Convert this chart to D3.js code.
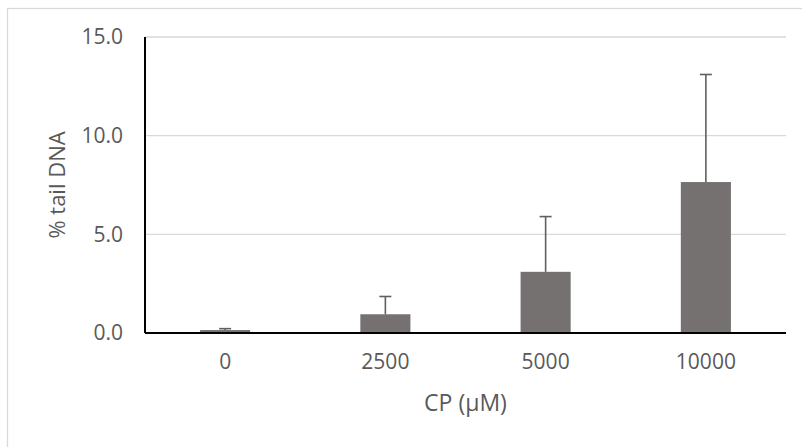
<!DOCTYPE html>
<html>
<head>
<meta charset="utf-8">
<script src="https://cdn.jsdelivr.net/npm/d3@7"></script>
<style>
  body { margin: 0; background: #fff; }
  text { font-family: "Open Sans", "Noto Sans", sans-serif; fill: #595959; }
</style>
</head>
<body>
<div id="chart"></div>
<script>
// data
const doses = ["0", "2500", "5000", "10000"];
const means = [0.15, 0.95, 3.1, 7.65];
const errUp = [0.07, 0.9, 2.8, 5.45];
const yTicks = [0, 5, 10, 15];

const W = 802, H = 447;
const margin = { top: 37, right: 16, bottom: 114, left: 145 };
const width = W - margin.left - margin.right;
const height = H - margin.top - margin.bottom;

const svg = d3
  .select("#chart")
  .append("svg")
  .attr("width", W)
  .attr("height", H);

// chart border (light grey frame)
svg
  .append("rect")
  .attr("x", 7.5)
  .attr("y", 8.5)
  .attr("width", W + 10)
  .attr("height", H + 10)
  .attr("fill", "none")
  .attr("stroke", "#d9d9d9")
  .attr("stroke-width", 1.3);

const g = svg
  .append("g")
  .attr("transform", `translate(${margin.left}, ${margin.top})`);

// scales
const xScale = d3
  .scaleBand()
  .domain(doses)
  .range([0, width])
  .paddingInner(0.6875)
  .paddingOuter(0.34375);

const yScale = d3.scaleLinear().domain([0, 15]).range([height, 0]);

// gridlines
g.append("g")
  .selectAll("line")
  .data(yTicks.filter((d) => d > 0))
  .join("line")
  .attr("x1", 0)
  .attr("x2", width)
  .attr("y1", (d) => yScale(d))
  .attr("y2", (d) => yScale(d))
  .attr("stroke", "#d9d9d9")
  .attr("stroke-width", 1.3);

// Y axis
const yAxis = g
  .append("g")
  .call(
    d3.axisLeft(yScale)
      .tickValues(yTicks)
      .tickFormat(d3.format(".1f"))
      .tickSize(0)
      .tickPadding(22)
  );
yAxis.select(".domain").remove();
yAxis.selectAll("text")
  .attr("font-size", 21)
  .attr("fill", "#595959")
  .style("font-family", "'Open Sans', sans-serif");

// Bars
g.selectAll(".bar")
  .data(doses)
  .join("rect")
  .attr("class", "bar")
  .attr("x", (d) => xScale(d))
  .attr("width", xScale.bandwidth())
  .attr("y", (d, i) => yScale(means[i]))
  .attr("height", (d, i) => height - yScale(means[i]))
  .attr("fill", "#767171");

// Error bars (plus only)
const eb = g.selectAll(".err")
  .data(doses)
  .join("g")
  .attr("class", "err")
  .attr("stroke", "#5f5f5f")
  .attr("stroke-width", 1.6);

eb.append("line")
  .attr("x1", (d) => xScale(d) + xScale.bandwidth() / 2)
  .attr("x2", (d) => xScale(d) + xScale.bandwidth() / 2)
  .attr("y1", (d, i) => yScale(means[i]))
  .attr("y2", (d, i) => yScale(means[i] + errUp[i]));

eb.append("line")
  .attr("x1", (d) => xScale(d) + xScale.bandwidth() / 2 - 6)
  .attr("x2", (d) => xScale(d) + xScale.bandwidth() / 2 + 6)
  .attr("y1", (d, i) => yScale(means[i] + errUp[i]))
  .attr("y2", (d, i) => yScale(means[i] + errUp[i]));

// X axis
const xAxis = g
  .append("g")
  .attr("transform", `translate(0, ${height})`)
  .call(d3.axisBottom(xScale).tickSize(0).tickPadding(21));
xAxis.select(".domain").remove();
xAxis.selectAll("text")
  .attr("font-size", 21)
  .attr("fill", "#595959")
  .style("font-family", "'Open Sans', sans-serif");

// axis lines
g.append("line")
  .attr("x1", 0).attr("x2", width)
  .attr("y1", height).attr("y2", height)
  .attr("stroke", "#000").attr("stroke-width", 2);
g.append("line")
  .attr("x1", 0).attr("x2", 0)
  .attr("y1", 0).attr("y2", height)
  .attr("stroke", "#000").attr("stroke-width", 2);

// axis titles
svg.append("text")
  .attr("x", margin.left + width / 2)
  .attr("y", 411)
  .attr("text-anchor", "middle")
  .attr("font-size", 23)
  .text("CP (μM)");

svg.append("text")
  .attr("transform", `translate(65, ${margin.top + height / 2}) rotate(-90)`)
  .attr("text-anchor", "middle")
  .attr("font-size", 22)
  .text("% tail DNA");
</script>
</body>
</html>
